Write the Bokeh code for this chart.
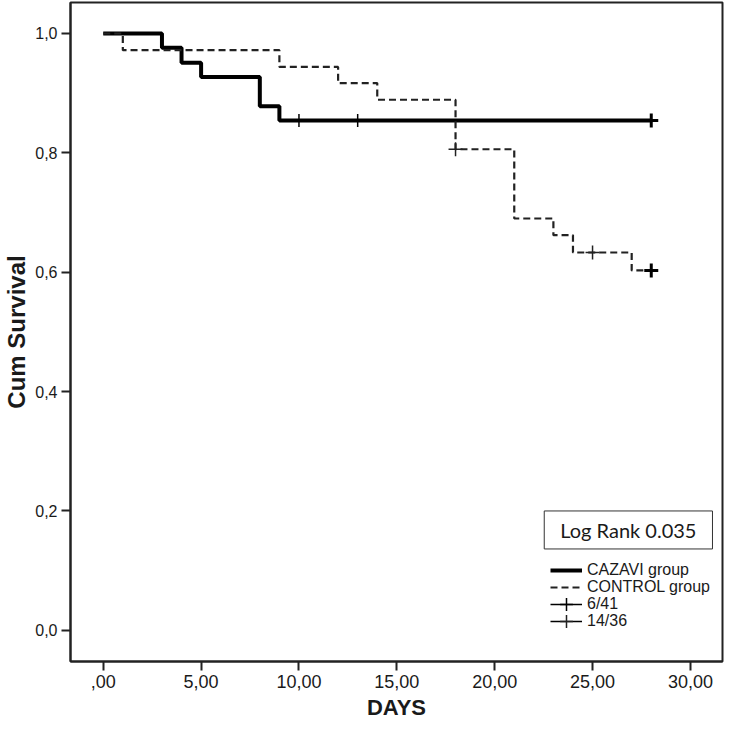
import math
from bokeh.plotting import figure
from bokeh.models import FixedTicker, Range1d, Legend, LegendItem, Label
from bokeh.embed import file_html
from bokeh.resources import INLINE

# ---- data ----
cazavi_days = [0, 3, 4, 5, 8, 9, 28]
cazavi_surv = [1.0, 0.976, 0.951, 0.927, 0.878, 0.854, 0.854]
cazavi_cens_days = [10, 13, 28]
cazavi_cens_surv = [0.854, 0.854, 0.854]

control_days = [0, 1, 9, 12, 14, 18, 21, 23, 24, 27, 28]
control_surv = [1.0, 0.972, 0.944, 0.917, 0.889, 0.806, 0.690, 0.662, 0.633, 0.603, 0.603]
control_cens_days = [18, 25, 28]
control_cens_surv = [0.806, 0.633, 0.603]

x_ticks = [0, 5, 10, 15, 20, 25, 30]
x_tick_labels = [",00", "5,00", "10,00", "15,00", "20,00", "25,00", "30,00"]
y_ticks = [0.0, 0.2, 0.4, 0.6, 0.8, 1.0]
y_tick_labels = ["0,0", "0,2", "0,4", "0,6", "0,8", "1,0"]

legend_labels = ["CAZAVI group", "CONTROL group", "6/41", "14/36"]
log_rank_text = "Log Rank 0.035"

FONT = "Liberation Sans"
INK = "#1a1a1a"

p = figure(width=724, height=726, output_backend="svg", toolbar_location=None,
           x_range=Range1d(-1.673, 31.64), y_range=Range1d(-0.05245, 1.05195),
           min_border_left=65, min_border_right=2, min_border_top=2, min_border_bottom=65)
p.background_fill_color = "white"
p.border_fill_color = "white"
p.xgrid.grid_line_color = None
p.ygrid.grid_line_color = None
p.outline_line_color = "#222222"
p.outline_line_width = 2
p.outline_line_alpha = 1

# axes
p.xaxis.ticker = FixedTicker(ticks=x_ticks)
p.xaxis.major_label_overrides = {float(t): l for t, l in zip(x_ticks, x_tick_labels)}
p.yaxis.ticker = FixedTicker(ticks=y_ticks)
p.yaxis.major_label_overrides = {t: l for t, l in zip(y_ticks, y_tick_labels)}
for ax in (p.xaxis, p.yaxis):
    ax.axis_line_color = "#222222"
    ax.axis_line_width = 2
    ax.major_tick_out = 9
    ax.major_tick_in = 0
    ax.major_tick_line_width = 2
    ax.major_tick_line_color = "#222222"
    ax.minor_tick_line_color = None
    ax.major_label_text_font = FONT
    ax.major_label_text_color = INK
    ax.axis_label_text_font = FONT
    ax.axis_label_text_font_style = "bold"
    ax.axis_label_text_color = INK
p.xaxis.axis_label_text_font_size = "22px"
p.yaxis.axis_label_text_font_size = "24px"
p.xaxis.major_label_text_font_size = "18px"
p.yaxis.major_label_text_font_size = "16px"
p.xaxis.major_label_standoff = 4
p.yaxis.major_label_standoff = 4
p.xaxis.axis_label = "DAYS"
p.yaxis.axis_label = "Cum Survival"
p.xaxis.axis_label_standoff = 4
p.yaxis.axis_label_standoff = 2

# survival curves
caz_line = p.step(cazavi_days, cazavi_surv, mode="after", line_width=4, line_color="black")
ctl_line = p.step(control_days, control_surv, mode="after", line_width=2.2,
                  line_color="#222222", line_dash="7 4")

# censor marks
caz_cens = p.scatter(cazavi_cens_days[:-1], cazavi_cens_surv[:-1], marker="cross",
                     size=13, line_width=1.5, line_color="black")
p.scatter(cazavi_cens_days[-1:], cazavi_cens_surv[-1:], marker="cross",
          size=14, line_width=3, line_color="black")
ctl_cens = p.scatter(control_cens_days[:-1], control_cens_surv[:-1], marker="cross",
                     size=14, line_width=1.5, line_color="#222222")
p.scatter(control_cens_days[-1:], control_cens_surv[-1:], marker="cross",
          size=14, line_width=3, line_color="black")

# legend-only helper lines (NaN data: nothing drawn in the plot area)
nan = [math.nan]
leg_line1 = p.line(x=nan, y=nan, line_color="black", line_width=1.5)
leg_line2 = p.line(x=nan, y=nan, line_color="black", line_width=1.5)


def make_legend(items, loc):
    lg = Legend(items=items, location=loc)
    lg.border_line_alpha = 0
    lg.background_fill_alpha = 0
    lg.padding = 0
    lg.margin = 0
    lg.spacing = 0
    lg.glyph_width = 32
    lg.glyph_height = 34
    lg.label_height = 34
    lg.label_standoff = 5
    lg.label_text_font = FONT
    lg.label_text_font_size = "16px"
    lg.label_text_color = INK
    return lg


# two interleaved legends so that rows are 17px apart while crosses keep a usable size
legend_a = make_legend([
    LegendItem(label=legend_labels[0], renderers=[caz_line]),
    LegendItem(label=legend_labels[2], renderers=[leg_line1, caz_cens]),
], (480, 40))
legend_b = make_legend([
    LegendItem(label=legend_labels[1], renderers=[ctl_line]),
    LegendItem(label=legend_labels[3], renderers=[leg_line2, ctl_cens]),
], (480, 23))
p.add_layout(legend_a)
p.add_layout(legend_b)

# Log rank box
lr = Label(x=26.83, y=0.168, text=log_rank_text, text_align="center", text_baseline="middle",
           text_font="Lato", text_font_size="20px", text_color=INK,
           border_line_color="#333333", border_line_width=1,
           background_fill_color="white",
           padding=dict(top=7, right=16, bottom=7, left=16))
p.add_layout(lr)

open("out.html", "w").write(file_html(p, INLINE))
